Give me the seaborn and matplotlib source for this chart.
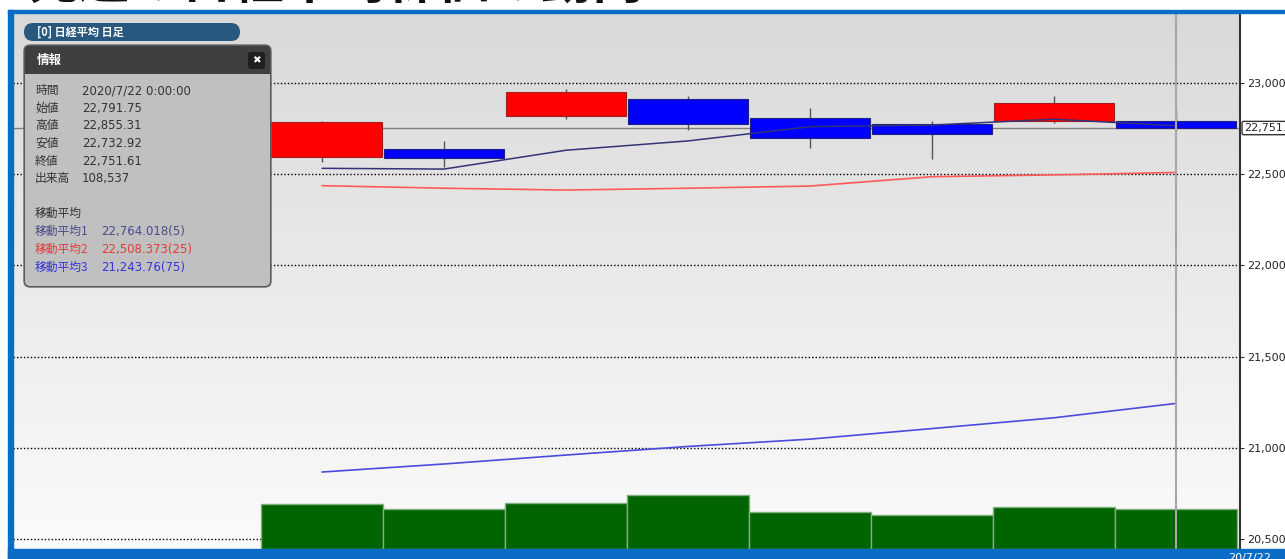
import numpy as np
import pandas as pd
import matplotlib
matplotlib.use('Agg')
import matplotlib.pyplot as plt
import seaborn as sns
from matplotlib.colors import LinearSegmentedColormap
from matplotlib.patches import FancyBboxPatch, Rectangle
import matplotlib.transforms as mtransforms

# daily candles (2020/7/13 .. 2020/7/22)
opens = [22591, 22635, 22818, 22911, 22808, 22776, 22790, 22791.75]
highs = [22790, 22681, 22965, 22929, 22860, 22790, 22929, 22855.31]
lows = [22567, 22537, 22800, 22741, 22644, 22580, 22781, 22732.92]
closes = [22786, 22586, 22949, 22772, 22695, 22719, 22887, 22751.61]
volumes = [121300, 109400, 124800, 146500, 100400, 92200, 114800, 108537]

# moving averages
ma5 = [22531, 22527, 22630, 22681, 22759, 22768, 22800, 22764.018]
ma25 = [22436, 22422, 22412, 22422, 22434, 22485, 22495, 22508.373]
ma75 = [20868, 20912, 20961, 21008, 21048, 21106, 21165, 21243.76]

price_ticks = [20500, 21000, 21500, 22000, 22500, 23000]

info_labels = ['時間', '始値', '高値', '安値', '終値', '出来高']
info_values = ['2020/7/22 0:00:00', '22,791.75', '22,855.31', '22,732.92', '22,751.61', '108,537']
ma_labels = ['移動平均1', '移動平均2', '移動平均3']
ma_values = ['22,764.018(5)', '22,508.373(25)', '21,243.76(75)']

sns.set_style('white')
plt.rcParams['font.family'] = ['Noto Sans CJK JP', 'DejaVu Sans']

W, H = 1285, 559
fig = plt.figure(figsize=(W / 100, H / 100), dpi=100)

# main price axes in pixel layout
left, right, top, bottom = 13, 1240, 12, 549
XL = (-2.533, 7.525)
YL = (20446.5, 23387)
ax = fig.add_axes([left / W, (H - bottom) / H, (right - left) / W, (bottom - top) / H])
ax.set_xlim(*XL)
ax.set_ylim(*YL)

df = pd.DataFrame({'idx': np.arange(8), 'open': opens, 'high': highs,
                   'low': lows, 'close': closes, 'vol': volumes,
                   'ma5': ma5, 'ma25': ma25, 'ma75': ma75})

# volume on a twin axis (drawn underneath the price layer)
ax2 = ax.twinx()
ax2.set_zorder(1)
ax.set_zorder(2)
ax.patch.set_visible(False)

cmap = LinearSegmentedColormap.from_list('bg', ['#d9d9d9', '#fbfbfb'])
ax2.imshow(np.linspace(0, 1, 256).reshape(-1, 1), cmap=cmap, aspect='auto',
           extent=(0, 1, 0, 1), transform=ax2.transAxes, zorder=0)

grid_tr = mtransforms.blended_transform_factory(ax2.transAxes, ax.transData)
for t in price_ticks:
    ax2.plot([0, 1], [t, t], transform=grid_tr, color='black', lw=1,
             ls=(0, (1, 1.5)), zorder=1)

sns.barplot(data=df, x='idx', y='vol', native_scale=True, width=1.0,
            color='#006400', saturation=1, edgecolor='#7fb07f', linewidth=1,
            ax=ax2, zorder=2)
ax2.set_ylim(0, 1457000)
ax2.set_xlim(*XL)
ax2.set_yticks([])
ax2.set_xticks([])
ax2.set_xlabel('')
ax2.set_ylabel('')
for s in ax2.spines.values():
    s.set_visible(False)

# last close line
ax.axhline(closes[-1], color='#808080', lw=1, zorder=2)

# candles
up = df['close'] >= df['open']
ax.vlines(df['idx'], df['low'], df['high'], color='#555555', lw=1, zorder=3)
body_bottom = np.minimum(df['open'], df['close'])
body_h = np.abs(df['close'] - df['open'])
ax.bar(df['idx'], body_h, bottom=body_bottom, width=0.99,
       color=np.where(up, '#ff0000', '#0000ff'),
       edgecolor=np.where(up, '#a02020', '#202080'), linewidth=0.8, zorder=4)

sns.lineplot(data=df, x='idx', y='ma5', color='#333377', lw=1.1, ax=ax, zorder=5)
sns.lineplot(data=df, x='idx', y='ma25', color='#ff5a5a', lw=1.2, ax=ax, zorder=5)
sns.lineplot(data=df, x='idx', y='ma75', color='#4b4bdc', lw=1.2, ax=ax, zorder=5)
ax.axvline(7, color='#a8a8a8', lw=1.5, zorder=6)

ax.set_xlim(*XL)
ax.set_ylim(*YL)
ax.set_xlabel('')
ax.set_ylabel('')
ax.set_xticks([])
ax.yaxis.tick_right()
ax.set_yticks(price_ticks)
ax.set_yticklabels([f'{t:,}' for t in price_ticks], family='DejaVu Sans', fontsize=8)
ax.tick_params(axis='y', length=3, pad=2, colors='#333333', labelcolor='#222222')
for k in ['left', 'top', 'bottom']:
    ax.spines[k].set_visible(False)
ax.spines['right'].set_color('#333333')
ax.spines['right'].set_linewidth(1.5)

trans = mtransforms.blended_transform_factory(ax.transAxes, ax.transData)
ax.text(1.003, closes[-1], f'{closes[-1]:,.2f}', transform=trans, fontsize=8,
        family='DejaVu Sans', va='center', ha='left', clip_on=False, zorder=10,
        bbox=dict(boxstyle='round,pad=0.15', fc='white', ec='#333333', lw=1))

# overlay in pixel coordinates
ov = fig.add_axes([0, 0, 1, 1], zorder=20)
ov.set_xlim(0, W)
ov.set_ylim(H, 0)
ov.axis('off')

blue = '#0a6cc4'
ov.add_patch(Rectangle((8, 10), 5, H - 10, color=blue))
ov.add_patch(Rectangle((8, 549), W - 8, 10, color=blue))
ov.text(1228, 553, '20/7/22', color='white', fontsize=8, family='DejaVu Sans', va='top')

# clipped headline at the very top
ov.text(28, 9.5, '先週の日経平均株価の動向', fontsize=37, fontweight='bold',
        color='#111111', va='bottom', ha='left', zorder=0)
ov.add_patch(Rectangle((8, 10), W - 8, 2.5, color=blue, zorder=3))

# title pill
ov.add_patch(FancyBboxPatch((24, 23), 216, 18, boxstyle='round,pad=0,rounding_size=9',
                            fc='#28587e', ec='none'))
ov.text(37, 32, '[0] 日経平均 日足', color='white', fontsize=8, fontweight='bold', va='center')

# info panel
ov.add_patch(FancyBboxPatch((24, 45), 247, 242, boxstyle='round,pad=0,rounding_size=6',
                            fc='#3f3f3f', ec='#666666', lw=1))
ov.add_patch(FancyBboxPatch((25, 74), 245, 212, boxstyle='round,pad=0,rounding_size=5',
                            fc='#c0c0c0', ec='none'))
ov.add_patch(Rectangle((25, 74), 245, 10, fc='#c0c0c0', ec='none'))
ov.text(37, 60, '情報', color='white', fontsize=9, fontweight='bold', va='center')
ov.add_patch(FancyBboxPatch((248, 52), 17, 17, boxstyle='round,pad=0,rounding_size=3',
                            fc='#1f1f1f', ec='none'))
ov.text(256.5, 60.5, '✖', color='white', fontsize=7.5, family='DejaVu Sans',
        ha='center', va='center')

for i, (lab, val) in enumerate(zip(info_labels, info_values)):
    y = 90.7 + 17.6 * i
    ov.text(35, y, lab, fontsize=8.5, color='#333333', va='center')
    ov.text(82, y, val, fontsize=8.5, color='#333333', va='center', family='DejaVu Sans')

ov.text(35, 213.7, '移動平均', fontsize=8.5, color='#333333', va='center')
ma_cols = ['#4a4a8a', '#e23c3c', '#3535d8']
for i, (lab, val, c) in enumerate(zip(ma_labels, ma_values, ma_cols)):
    y = 231.5 + 18 * i
    ov.text(35, y, lab, fontsize=8.5, color=c, va='center',
            family=['Noto Sans CJK JP', 'DejaVu Sans'])
    ov.text(101, y, val, fontsize=8.5, color=c, va='center', family='DejaVu Sans')

fig.savefig('out.png', dpi=100, facecolor='white')
